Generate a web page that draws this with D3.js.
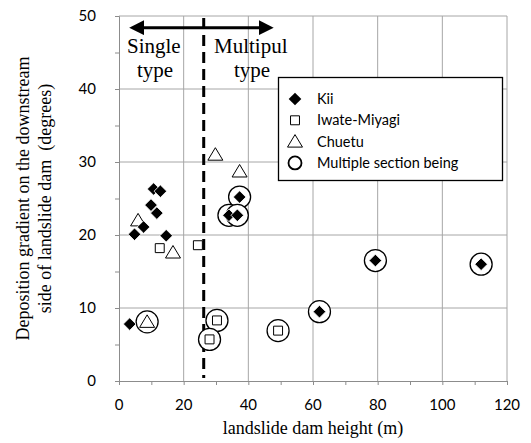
<!DOCTYPE html>
<html>
<head>
<meta charset="utf-8">
<script src="https://cdn.jsdelivr.net/npm/d3@7"></script>
<style>
  body { margin: 0; background: #fff; }
  svg { display: block; }
</style>
</head>
<body>
<script>
  // landslide dam height (m) / deposition gradient (degrees)
  const kiiHeight = [3.3, 4.8, 7.6, 9.9, 10.7, 12.8, 11.7, 14.6, 37.3, 34.0, 36.6, 62.0, 79.3, 112.0];
  const kiiGradient = [7.8, 20.1, 21.1, 24.1, 26.3, 26.0, 23.0, 19.9, 25.2, 22.7, 22.7, 9.5, 16.5, 16.0];

  const iwateHeight = [12.6, 24.4, 30.3, 28.0, 49.2];
  const iwateGradient = [18.2, 18.6, 8.3, 5.7, 6.9];

  const chuetuHeight = [5.9, 16.7, 29.8, 37.3, 8.7];
  const chuetuGradient = [22.0, 17.6, 31.0, 28.7, 8.1];

  // points with multiple sections (circled)
  const multiHeight = [37.3, 34.0, 36.6, 62.0, 79.3, 112.0, 30.3, 28.0, 49.2, 8.7];
  const multiGradient = [25.2, 22.7, 22.7, 9.5, 16.5, 16.0, 8.3, 5.7, 6.9, 8.1];

  const legendLabels = ['Kii', 'Iwate-Miyagi', 'Chuetu', 'Multiple section being'];
  const xTicks = [0, 20, 40, 60, 80, 100, 120];
  const yTicks = [0, 10, 20, 30, 40, 50];

  const splitHeight = 26.2;   // boundary single / multiple type
  const arrowFrom = 3, arrowTo = 48, arrowLevel = 48.4;

  const width = 531;
  const height = 443;
  const margin = {top: 16, right: 24, bottom: 62, left: 119};

  const x = d3.scaleLinear().domain([0, 120]).range([margin.left, width - margin.right]);
  const y = d3.scaleLinear().domain([0, 50]).range([height - margin.bottom, margin.top]);

  const svg = d3.select('body')
    .append('svg')
    .attr('width', width)
    .attr('height', height);

  const gridColor = '#a6a6a6';

  // grid
  svg.append('g')
    .selectAll('line')
    .data(xTicks.slice(1))
    .join('line')
    .attr('x1', d => x(d)).attr('x2', d => x(d))
    .attr('y1', y(0)).attr('y2', y(50))
    .attr('stroke', gridColor);

  svg.append('g')
    .selectAll('line')
    .data(yTicks.slice(1))
    .join('line')
    .attr('x1', x(0)).attr('x2', x(120))
    .attr('y1', d => y(d)).attr('y2', d => y(d))
    .attr('stroke', gridColor);

  // axes
  const xAxis = svg.append('g')
    .attr('transform', `translate(0, ${y(0)})`)
    .call(d3.axisBottom(x).tickValues(d3.range(0, 121, 10)).tickSize(4).tickFormat(''));
  xAxis.selectAll('path, line').attr('stroke', '#8c8c8c');

  const yAxis = svg.append('g')
    .attr('transform', `translate(${x(0)}, 0)`)
    .call(d3.axisLeft(y).tickValues(d3.range(0, 51, 5)).tickSize(4).tickFormat(''));
  yAxis.selectAll('path, line').attr('stroke', '#8c8c8c');

  svg.append('g')
    .selectAll('text')
    .data(xTicks)
    .join('text')
    .attr('x', d => x(d))
    .attr('y', y(0) + 29)
    .attr('text-anchor', 'middle')
    .attr('font-family', 'Lato, sans-serif')
    .attr('font-size', 15)
    .text(d => d);

  svg.append('g')
    .selectAll('text')
    .data(yTicks)
    .join('text')
    .attr('x', x(0) - 23)
    .attr('y', d => y(d) + 5)
    .attr('text-anchor', 'end')
    .attr('font-family', 'Lato, sans-serif')
    .attr('font-size', 15)
    .text(d => d);

  // axis titles
  svg.append('text')
    .attr('x', (x(0) + x(120)) / 2)
    .attr('y', 434)
    .attr('text-anchor', 'middle')
    .attr('font-family', '"Liberation Serif", serif')
    .attr('font-size', 18)
    .text('landslide dam height (m)');

  const yTitle = svg.append('text')
    .attr('transform', `translate(0, ${(y(0) + y(50)) / 2}) rotate(-90)`)
    .attr('text-anchor', 'middle')
    .attr('font-family', '"Liberation Serif", serif')
    .attr('font-size', 18);
  yTitle.append('tspan').attr('x', 0).attr('y', 29).text('Deposition gradient on the downstream');
  yTitle.append('tspan').attr('x', 0).attr('y', 51).attr('xml:space', 'preserve').text('side of landslide dam  (degrees)');

  // single / multiple boundary
  svg.append('line')
    .attr('x1', x(splitHeight)).attr('x2', x(splitHeight))
    .attr('y1', y(50) + 2).attr('y2', y(0) - 3)
    .attr('stroke', '#000')
    .attr('stroke-width', 3)
    .attr('stroke-dasharray', '11,6');

  const defs = svg.append('defs');
  ['arrowEnd', 'arrowStart'].forEach(id => {
    defs.append('marker')
      .attr('id', id)
      .attr('viewBox', '0 0 10 10')
      .attr('refX', 5).attr('refY', 5)
      .attr('markerWidth', 5).attr('markerHeight', 5)
      .attr('markerUnits', 'strokeWidth')
      .attr('orient', 'auto-start-reverse')
      .append('path')
      .attr('d', 'M0,0 L10,5 L0,10 Z')
      .attr('fill', '#000');
  });

  svg.append('line')
    .attr('x1', x(arrowFrom) + 8).attr('x2', x(arrowTo) - 8)
    .attr('y1', y(arrowLevel)).attr('y2', y(arrowLevel))
    .attr('stroke', '#000')
    .attr('stroke-width', 3)
    .attr('marker-start', 'url(#arrowStart)')
    .attr('marker-end', 'url(#arrowEnd)');

  const noteFont = '"Liberation Serif", serif';
  [['Single', 127, 53, 'start'], ['type', 155, 77, 'middle'],
   ['Multipul', 214, 53, 'start'], ['type', 252, 77, 'middle']].forEach(([t, tx, ty, anchor]) => {
    svg.append('text')
      .attr('x', tx).attr('y', ty)
      .attr('text-anchor', anchor)
      .attr('font-family', noteFont)
      .attr('font-size', 21)
      .text(t);
  });

  // symbols
  const diamond = d3.symbol().type(d3.symbolSquare).size(80);
  const square = d3.symbol().type(d3.symbolSquare).size(80);
  const triangle = 'M0,-7 L7.5,5.5 L-7.5,5.5 Z';

  svg.append('g')
    .selectAll('circle')
    .data(multiHeight)
    .join('circle')
    .attr('cx', d => x(d))
    .attr('cy', (d, i) => y(multiGradient[i]))
    .attr('r', 11)
    .attr('fill', '#fff')
    .attr('stroke', '#000')
    .attr('stroke-width', 1.3);

  svg.append('g')
    .selectAll('path')
    .data(iwateHeight)
    .join('path')
    .attr('d', square)
    .attr('transform', (d, i) => `translate(${x(d)}, ${y(iwateGradient[i])})`)
    .attr('fill', '#fff')
    .attr('stroke', '#000')
    .attr('stroke-width', 1);

  svg.append('g')
    .selectAll('path')
    .data(chuetuHeight)
    .join('path')
    .attr('d', triangle)
    .attr('transform', (d, i) => `translate(${x(d)}, ${y(chuetuGradient[i])})`)
    .attr('fill', '#fff')
    .attr('stroke', '#000')
    .attr('stroke-width', 1);

  svg.append('g')
    .selectAll('path')
    .data(kiiHeight)
    .join('path')
    .attr('d', diamond)
    .attr('transform', (d, i) => `translate(${x(d)}, ${y(kiiGradient[i])}) rotate(45)`)
    .attr('fill', '#000')
    .attr('stroke', '#fff')
    .attr('stroke-width', 0.8);

  // legend
  const legend = svg.append('g');
  legend.append('rect')
    .attr('x', 278.5).attr('y', 77.5)
    .attr('width', 224).attr('height', 103)
    .attr('fill', '#fff')
    .attr('stroke', '#000')
    .attr('stroke-width', 1.3);

  const rows = legend.selectAll('g')
    .data(legendLabels)
    .join('g')
    .attr('transform', (d, i) => `translate(295, ${99 + i * 21.3})`);

  rows.each(function(d, i) {
    const g = d3.select(this);
    if (i === 0) g.append('path').attr('d', diamond).attr('transform', 'rotate(45)').attr('fill', '#000');
    if (i === 1) g.append('path').attr('d', square).attr('fill', '#fff').attr('stroke', '#000');
    if (i === 2) g.append('path').attr('d', triangle).attr('fill', '#fff').attr('stroke', '#000');
    if (i === 3) g.append('circle').attr('r', 6.5).attr('fill', '#fff').attr('stroke', '#000').attr('stroke-width', 1.8);
  });

  rows.append('text')
    .attr('x', 22)
    .attr('y', 5)
    .attr('font-family', 'Lato, sans-serif')
    .attr('font-size', 14.5)
    .text(d => d);
</script>
</body>
</html>
